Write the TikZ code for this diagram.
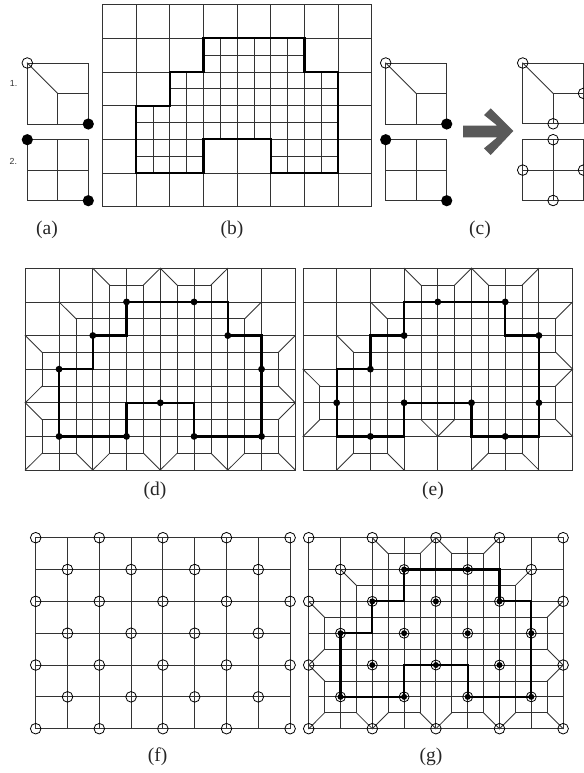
\documentclass[tikz,border=0pt]{standalone}
\usepackage{fontspec}
\setmainfont{Liberation Serif}
\newfontfamily\lsans{Liberation Sans}
\tikzset{
  thinl/.style={line width=0.85bp,draw=black!80,line cap=rect},
  thickl/.style={line width=2.2bp,draw=black,line join=miter,line cap=rect},
  opendot/.style={line width=0.8bp,draw=black},
  sublabel/.style={font=\fontsize{19.5bp}{21bp}\selectfont,text=black!85,inner sep=0pt,anchor=center},
  numlabel/.style={font=\lsans\fontsize{8.8bp}{10bp}\selectfont,text=black!80,inner sep=0pt,anchor=center},
  gridunit/.style={x=#1,y=-#1}
}
% coarse 8 x 6 grid
\newcommand\coarsegrid{%
  \foreach \i in {0,...,8}{\draw[thinl] (\i,0) -- (\i,6);}
  \foreach \j in {0,...,6}{\draw[thinl] (0,\j) -- (8,\j);}
}
% thick outline
\newcommand\outline{%
  \draw[thickl] (3,1) -- (6,1) -- (6,2) -- (7,2) -- (7,5) -- (5,5) -- (5,4) -- (3,4) -- (3,5) -- (1,5) -- (1,3) -- (2,3) -- (2,2) -- (3,2) -- cycle;
}
% segments: {x1/y1/x2/y2}
\newcommand\segs[1]{\foreach \a/\b/\c/\d in {#1}{\draw[thinl] (\a,\b) -- (\c,\d);}}
% mesh of panels (d) and (g)
\newcommand\meshD{%
  \coarsegrid
  \segs{2/0/2.5/.5,2.5/.5/3.5/.5,3.5/.5/4/0,4/0/4.5/.5,4.5/.5/5.5/.5,5.5/.5/6/0,
        1/1/1.5/1.5,1.5/1.5/6.5/1.5,6.5/1.5/7/1,
        0/2/.5/2.5,.5/2.5/7.5/2.5,7.5/2.5/8/2,
        .5/2.5/.5/3.5,7.5/2.5/7.5/3.5,
        .5/3.5/0/4,.5/3.5/7.5/3.5,7.5/3.5/8/4,
        0/4/.5/4.5,.5/4.5/7.5/4.5,8/4/7.5/4.5,
        .5/4.5/.5/5.5,7.5/4.5/7.5/5.5,
        .5/5.5/0/6,.5/5.5/1.5/5.5,1.5/5.5/2/6,2/6/2.5/5.5,2.5/5.5/3.5/5.5,3.5/5.5/4/6,
        4/6/4.5/5.5,4.5/5.5/5.5/5.5,5.5/5.5/6/6,6/6/6.5/5.5,6.5/5.5/7.5/5.5,7.5/5.5/8/6,
        1.5/1.5/1.5/5.5,2.5/.5/2.5/5.5,3.5/.5/3.5/5.5,4.5/.5/4.5/5.5,5.5/.5/5.5/5.5,6.5/1.5/6.5/5.5}
}
% mesh of panel (e)
\newcommand\meshE{%
  \coarsegrid
  \segs{3/0/3.5/.5,3.5/.5/4.5/.5,4.5/.5/5/0,5/0/5.5/.5,5.5/.5/6.5/.5,6.5/.5/7/0,
        2/1/2.5/1.5,2.5/1.5/7.5/1.5,7.5/1.5/8/1,
        1/2/1.5/2.5,1.5/2.5/7.5/2.5,7.5/2.5/8/3,8/3/7.5/3.5,
        7.5/1.5/7.5/2.5,7.5/3.5/7.5/4.5,7.5/4.5/8/5,
        0/3/.5/3.5,.5/3.5/7.5/3.5,.5/3.5/.5/4.5,.5/4.5/0/5,.5/4.5/7.5/4.5,
        3.5/4.5/4/5,4/5/4.5/4.5,
        1/6/1.5/5.5,1.5/5.5/2.5/5.5,2.5/5.5/3/6,5/6/5.5/5.5,5.5/5.5/6.5/5.5,6.5/5.5/7/6,
        1.5/2.5/1.5/5.5,2.5/1.5/2.5/5.5,3.5/.5/3.5/4.5,4.5/.5/4.5/4.5,5.5/.5/5.5/5.5,6.5/.5/6.5/5.5}
}
% unit-square templates
\newcommand\tmplone{%
  \draw[thinl] (0,0) rectangle (1,1);
  \segs{0/0/.5/.5,.5/.5/1/.5,.5/.5/.5/1}
}
\newcommand\tmpltwo{%
  \draw[thinl] (0,0) rectangle (1,1);
  \segs{0/.5/1/.5,.5/0/.5/1}
}
\newcommand\opens[1]{\foreach \a/\b in {#1}{\draw[opendot] (\a,\b) circle [radius=5.3bp];}}
\newcommand\solids[2][3.4bp]{\foreach \a/\b in {#2}{\fill[black] (\a,\b) circle [radius=#1];}}
\newcommand\rings[1]{\foreach \a/\b in {#1}{\draw[opendot] (\a,\b) circle [radius=5bp];\fill[black] (\a,\b) circle [radius=3.0bp];}}
\begin{document}
\begin{tikzpicture}[x=1bp,y=-1bp]
\clip (0,0) rectangle (584,773);
\fill[white] (0,0) rectangle (584,773);

% (a)
\begin{scope}[shift={(27.3bp,-63bp)},gridunit=61bp]
  \tmplone
  \opens{0/0}
  \solids[5.6bp]{1/1}
\end{scope}
\begin{scope}[shift={(27.3bp,-139.7bp)},gridunit=61bp]
  \tmpltwo
  \solids[5.6bp]{0/0,1/1}
\end{scope}
\node[numlabel] (numone) at (13.6,83.5) {1.};
\node[numlabel] (numtwo) at (13.3,161) {2.};
\node[sublabel] (labela) at (47,230) {(a)};

% (b)
\begin{scope}[shift={(102.5bp,-4.7bp)},x=33.65bp,y=-33.67bp]
  \coarsegrid
  \segs{1.5/3/1.5/5,2.5/2/2.5/5,3.5/1/3.5/4,4.5/1/4.5/4,5.5/1/5.5/5,6.5/2/6.5/5,
        3/1.5/6/1.5,2/2.5/7/2.5,1/3.5/7/3.5,1/4.5/3/4.5,5/4.5/7/4.5}
  \outline
\end{scope}
\node[sublabel] (labelb) at (232,230) {(b)};

% (c)
\begin{scope}[shift={(385.7bp,-63bp)},gridunit=61bp]
  \tmplone
  \opens{0/0}
  \solids[5.6bp]{1/1}
\end{scope}
\begin{scope}[shift={(385.7bp,-139.7bp)},gridunit=61bp]
  \tmpltwo
  \solids[5.6bp]{0/0,1/1}
\end{scope}
\fill[black!65] (463,125.7) -- (497.3,125.7) -- (484,115) -- (490.7,108.3) -- (513.3,131) -- (490.7,155) -- (484,148.3) -- (497.3,137.3) -- (463,137.3) -- cycle;
\begin{scope}[shift={(522.7bp,-63bp)},gridunit=60.8bp]
  \tmplone
  \opens{0/0,1/.5,.5/1}
\end{scope}
\begin{scope}[shift={(522.7bp,-139.7bp)},gridunit=60.8bp]
  \tmpltwo
  \opens{.5/0,0/.5,1/.5,.5/1}
\end{scope}
\node[sublabel] (labelc) at (480,230) {(c)};

% (d)
\begin{scope}[shift={(25.3bp,-268.3bp)},x=33.75bp,y=-33.62bp]
  \meshD
  \outline
  \solids{3/1,5/1,2/2,6/2,1/3,7/3,4/4,1/5,3/5,5/5,7/5}
\end{scope}
\node[sublabel] (labeld) at (155,491) {(d)};

% (e)
\begin{scope}[shift={(303bp,-268.3bp)},x=33.7bp,y=-33.62bp]
  \meshE
  \outline
  \solids{4/1,6/1,3/2,7/2,2/3,1/4,3/4,5/4,7/4,2/5,6/5}
\end{scope}
\node[sublabel] (labele) at (433,491) {(e)};

% (f)
\begin{scope}[shift={(35.7bp,-537.7bp)},x=31.8bp,y=-31.83bp]
  \coarsegrid
  \opens{0/0,2/0,4/0,6/0,8/0,1/1,3/1,5/1,7/1,0/2,2/2,4/2,6/2,8/2,1/3,3/3,5/3,7/3,0/4,2/4,4/4,6/4,8/4,1/5,3/5,5/5,7/5,0/6,2/6,4/6,6/6,8/6}
\end{scope}
\node[sublabel] (labelf) at (157.7,757) {(f)};

% (g)
\begin{scope}[shift={(308.7bp,-537.7bp)},x=31.8bp,y=-31.83bp]
  \meshD
  \outline
  \opens{0/0,2/0,4/0,6/0,8/0,1/1,7/1,0/2,8/2,0/4,8/4,0/6,2/6,4/6,6/6,8/6}
  \rings{3/1,5/1,2/2,4/2,6/2,1/3,3/3,5/3,7/3,2/4,4/4,6/4,1/5,3/5,5/5,7/5}
\end{scope}
\node[sublabel] (labelg) at (431,757) {(g)};
\end{tikzpicture}
\end{document}
